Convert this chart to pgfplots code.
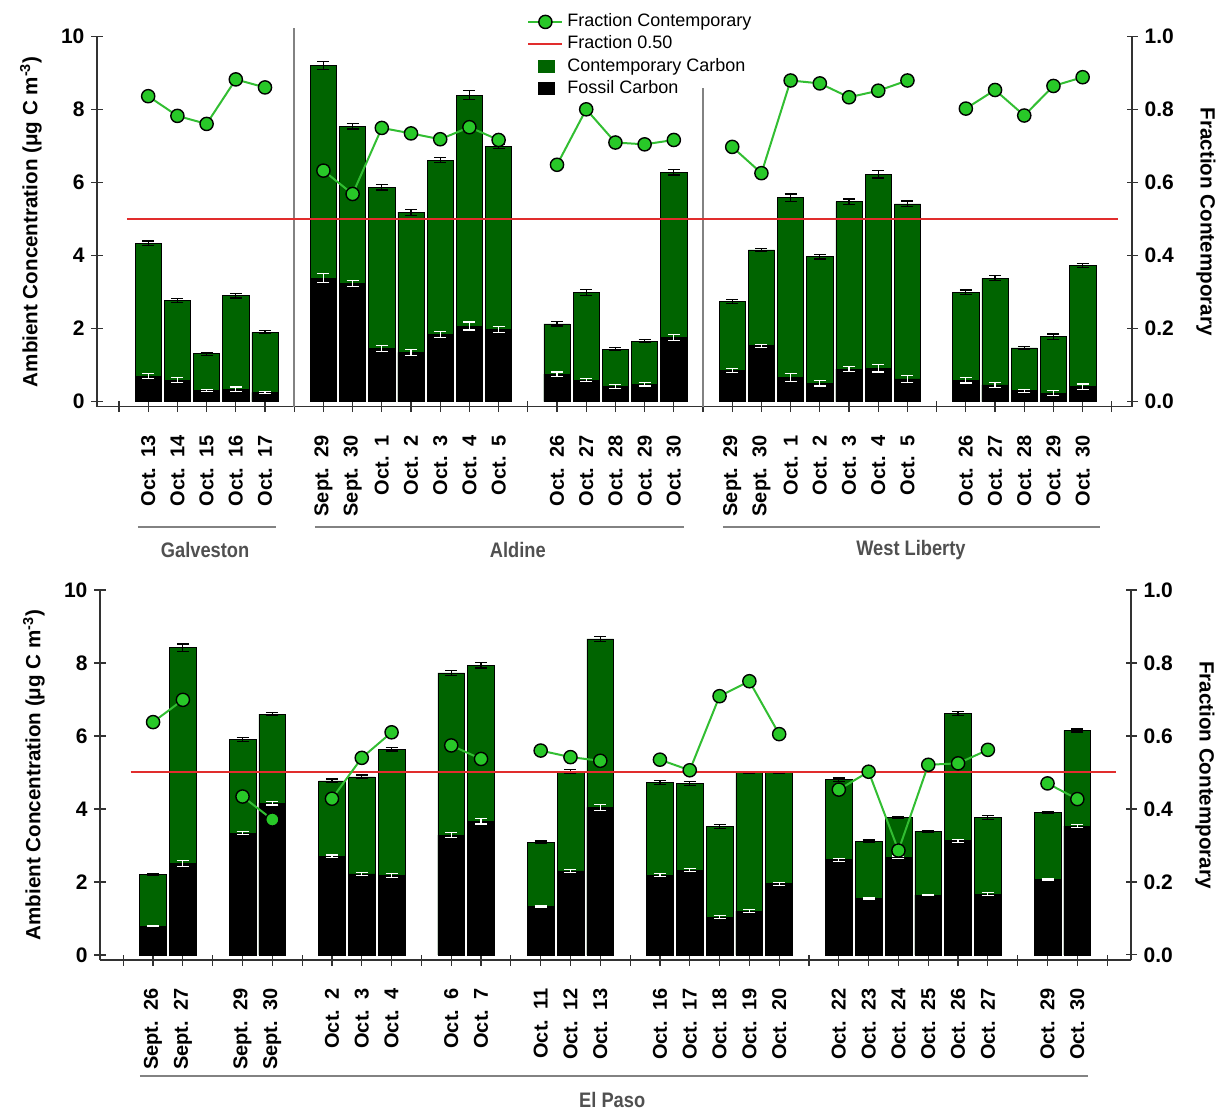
\documentclass[border=0pt]{standalone}
\usepackage{fontspec}
\setmainfont{Liberation Sans}
\usepackage{pgfplots}
\usepackage{pgfplotstable}
\pgfplotsset{compat=1.18}
\definecolor{cgreen}{RGB}{0,100,0}
\definecolor{fgreen}{RGB}{40,200,40}
\definecolor{lgreen}{RGB}{50,190,50}
\definecolor{rline}{RGB}{225,45,45}
\definecolor{axgray}{RGB}{50,50,50}
\definecolor{sepgray}{RGB}{130,130,130}
\definecolor{namegray}{RGB}{80,80,80}
\newcommand{\lab}[2]{#1\hspace{0.5em}#2}

\pgfplotstableread{
x t te f fe frac
1 4.34 0.06 0.70 0.06 0.837
2 2.77 0.06 0.59 0.06 0.783
3 1.31 0.04 0.30 0.03 0.761
4 2.90 0.06 0.34 0.06 0.883
5 1.90 0.04 0.25 0.03 0.861
6 nan nan nan nan nan
7 9.22 0.11 3.38 0.12 0.633
8 7.55 0.08 3.24 0.08 0.569
9 5.88 0.08 1.46 0.08 0.750
10 5.19 0.08 1.35 0.08 0.735
11 6.62 0.07 1.84 0.08 0.719
12 8.40 0.12 2.07 0.11 0.752
13 7.00 0.06 1.98 0.08 0.717
14 nan nan nan nan nan
15 2.13 0.06 0.75 0.06 0.649
16 2.99 0.08 0.59 0.05 0.801
17 1.44 0.05 0.41 0.05 0.710
18 1.66 0.05 0.48 0.05 0.705
19 6.28 0.07 1.76 0.08 0.717
20 nan nan nan nan nan
21 2.74 0.05 0.85 0.05 0.698
22 4.16 0.04 1.53 0.04 0.626
23 5.59 0.10 0.66 0.10 0.880
24 3.97 0.06 0.50 0.07 0.872
25 5.48 0.07 0.89 0.07 0.834
26 6.23 0.10 0.91 0.10 0.852
27 5.42 0.08 0.62 0.10 0.880
28 nan nan nan nan nan
29 3.00 0.06 0.58 0.07 0.803
30 3.38 0.07 0.46 0.07 0.854
31 1.47 0.04 0.30 0.04 0.784
32 1.78 0.07 0.23 0.07 0.865
33 3.73 0.06 0.41 0.07 0.889
}\toptab

\pgfplotstableread{
x t te f fe frac
1 2.20 0.03 0.79 0.02 0.638
2 8.42 0.10 2.50 0.08 0.699
3 nan nan nan nan nan
4 5.90 0.05 3.34 0.04 0.434
5 6.60 0.05 4.16 0.05 0.371
6 nan nan nan nan nan
7 4.77 0.05 2.70 0.04 0.428
8 4.88 0.05 2.22 0.04 0.540
9 5.64 0.05 2.17 0.05 0.610
10 nan nan nan nan nan
11 7.73 0.07 3.28 0.07 0.574
12 7.94 0.08 3.66 0.07 0.537
13 nan nan nan nan nan
14 3.09 0.03 1.33 0.02 0.560
15 5.03 0.06 2.30 0.04 0.542
16 8.66 0.07 4.04 0.08 0.532
17 nan nan nan nan nan
18 4.73 0.05 2.18 0.04 0.535
19 4.70 0.05 2.32 0.04 0.506
20 3.52 0.05 1.03 0.04 0.709
21 5.00 0.03 1.20 0.04 0.750
22 5.00 0.03 1.95 0.04 0.605
23 nan nan nan nan nan
24 4.80 0.05 2.61 0.04 0.453
25 3.12 0.03 1.55 0.02 0.502
26 3.77 0.03 2.68 0.03 0.286
27 3.39 0.03 1.64 0.02 0.521
28 6.62 0.05 3.13 0.04 0.525
29 3.77 0.05 1.66 0.04 0.562
30 nan nan nan nan nan
31 3.91 0.03 2.07 0.02 0.470
32 6.15 0.04 3.53 0.04 0.427
}\bottab

\pgfplotsset{
  base/.style={
    scale only axis, height=185pt, ymin=-0.14, ymax=10,
    anchor=south west, clip=false,
    /pgf/number format/assume math mode=true,
    tick align=outside, major tick length=5.5pt,
    tick style={axgray, line width=0.6pt},
  },
  nolinearrows/.style={
    axis line style={-, axgray, line width=0.7pt},
    every outer x axis line/.append style={-},
    every outer y axis line/.append style={-},
    every inner x axis line/.append style={-},
    every inner y axis line/.append style={-},
  },
  mainax/.style={
    base,
    axis x line=bottom, axis y line=left, nolinearrows,
    ytick={0,2,4,6,8,10},
    yticklabel style={font=\bfseries\fontsize{10.5}{12}\selectfont},
    xticklabel shift=8pt,
    xticklabel style={rotate=90, anchor=east, font=\bfseries\fontsize{10}{12}\selectfont},
    ylabel={Ambient Concentration (μg C m\textsuperscript{-3})},
    ylabel style={at={(axis description cs:0,0.5)}, anchor=center, yshift=33pt, xshift=0pt, font=\bfseries\fontsize{10.3}{12}\selectfont},
  },
  fracax/.style={
    base, ymin=-0.014, ymax=1.0,
    axis x line=none, axis y line=right, nolinearrows,
    ytick={0,0.2,0.4,0.6,0.8,1.0},
    yticklabel style={/pgf/number format/.cd, fixed, fixed zerofill, precision=1, /tikz/.cd, font=\bfseries\fontsize{10.5}{12}\selectfont},
    ylabel={Fraction Contemporary},
    ylabel style={at={(axis description cs:1,0.5)}, anchor=center, rotate=180, yshift=37pt, font=\bfseries\fontsize{10.3}{12}\selectfont},
    unbounded coords=jump,
  },
  greenbar/.style={ybar, bar width=0.9, bar shift=0pt, fill=cgreen, draw=black, line width=0.3pt,
    error bars/.cd, y dir=both, y explicit,
    error bar style={black, line width=0.6pt},
    error mark options={black, rotate=90, mark size=3pt, line width=0.6pt}},
  blackbar/.style={ybar, bar width=0.9, bar shift=0pt, fill=black, draw=black, line width=0.3pt,
    error bars/.cd, y dir=both, y explicit,
    error bar style={white, line width=0.6pt},
    error mark options={white, rotate=90, mark size=3pt, line width=0.6pt}},
  fracline/.style={lgreen, line width=1pt, mark=*, mark size=3.3pt,
    mark options={fill=fgreen, draw=black, line width=0.7pt}},
}

\begin{document}
\begin{tikzpicture}
\path[use as bounding box] (-48.5pt,-351.65pt) rectangle (560pt,203.35pt);

% ---------- top panel ----------
\begin{axis}[mainax, at={(0pt,0pt)}, width=517.5pt, xmin=-0.753, xmax=34.69,
  xtick={0,...,34},
  xticklabels={{},\lab{Oct.}{13},\lab{Oct.}{14},\lab{Oct.}{15},\lab{Oct.}{16},\lab{Oct.}{17},{},
    \lab{Sept.}{29},\lab{Sept.}{30},\lab{Oct.}{1},\lab{Oct.}{2},\lab{Oct.}{3},\lab{Oct.}{4},\lab{Oct.}{5},{},
    \lab{Oct.}{26},\lab{Oct.}{27},\lab{Oct.}{28},\lab{Oct.}{29},\lab{Oct.}{30},{},
    \lab{Sept.}{29},\lab{Sept.}{30},\lab{Oct.}{1},\lab{Oct.}{2},\lab{Oct.}{3},\lab{Oct.}{4},\lab{Oct.}{5},{},
    \lab{Oct.}{26},\lab{Oct.}{27},\lab{Oct.}{28},\lab{Oct.}{29},\lab{Oct.}{30},{}},
]
\addplot[greenbar] table[x=x, y=t, y error=te]{\toptab};
\addplot[blackbar] table[x=x, y=f, y error=fe]{\toptab};
\draw[sepgray, line width=1pt] (axis cs:6,-0.14) -- (axis cs:6,10.25);
\draw[sepgray, line width=1pt] (axis cs:20,-0.14) -- (axis cs:20,8.6);
\draw[sepgray, line width=1.1pt] (axis cs:0.65,-3.44) -- (axis cs:5.38,-3.44);
\draw[sepgray, line width=1.1pt] (axis cs:6.71,-3.44) -- (axis cs:19.35,-3.44);
\draw[sepgray, line width=1.1pt] (axis cs:20.68,-3.44) -- (axis cs:33.6,-3.44);
\node[text=namegray, font=\bfseries\fontsize{10.5}{12}\selectfont] at (axis cs:2.95,-4.07) {\scalebox{0.87}[1]{Galveston}};
\node[text=namegray, font=\bfseries\fontsize{10.5}{12}\selectfont] at (axis cs:13.66,-4.07) {\scalebox{0.87}[1]{Aldine}};
\node[text=namegray, font=\bfseries\fontsize{10.5}{12}\selectfont] at (axis cs:27.12,-4.07) {\scalebox{0.87}[1]{West Liberty}};
\end{axis}

% legend (drawn before the fraction series so points stay visible)
\begin{axis}[base, at={(0pt,0pt)}, width=517.5pt, xmin=-0.753, xmax=34.69, ymin=-0.014, ymax=1.0,
  hide axis,
  legend style={at={(axis cs:13.9,1.08)}, anchor=north west, draw=none, fill=none,
    font=\fontsize{9}{11}\selectfont, row sep=-1pt, inner sep=1pt},
  legend cell align=left,
]
\addlegendimage{fracline}
\addlegendentry{Fraction Contemporary}
\addlegendimage{rline, line width=1pt}
\addlegendentry{Fraction 0.50}
\addlegendimage{legend image code/.code={\fill[cgreen] (5pt,-3pt) rectangle (13pt,3pt);}}
\addlegendentry{Contemporary Carbon}
\addlegendimage{legend image code/.code={\fill[black] (5pt,-3pt) rectangle (13pt,3pt);}}
\addlegendentry{Fossil Carbon}
\end{axis}

\begin{axis}[fracax, at={(0pt,0pt)}, width=517.5pt, xmin=-0.753, xmax=34.69]
\addplot[rline, line width=1pt] coordinates {(0.27,0.5) (34.2,0.5)};
\addplot[fracline] table[x=x, y=frac]{\toptab};
\end{axis}

% ---------- bottom panel ----------
\begin{axis}[mainax, at={(1.5pt,-276.65pt)}, width=515.5pt, xmin=-0.78, xmax=33.8,
  xtick={0,...,33},
  xticklabels={{},\lab{Sept.}{26},\lab{Sept.}{27},{},\lab{Sept.}{29},\lab{Sept.}{30},{},
    \lab{Oct.}{2},\lab{Oct.}{3},\lab{Oct.}{4},{},\lab{Oct.}{6},\lab{Oct.}{7},{},
    \lab{Oct.}{11},\lab{Oct.}{12},\lab{Oct.}{13},{},
    \lab{Oct.}{16},\lab{Oct.}{17},\lab{Oct.}{18},\lab{Oct.}{19},\lab{Oct.}{20},{},
    \lab{Oct.}{22},\lab{Oct.}{23},\lab{Oct.}{24},\lab{Oct.}{25},\lab{Oct.}{26},\lab{Oct.}{27},{},
    \lab{Oct.}{29},\lab{Oct.}{30},{}},
]
\addplot[greenbar] table[x=x, y=t, y error=te]{\bottab};
\addplot[blackbar] table[x=x, y=f, y error=fe]{\bottab};
\draw[sepgray, line width=1.1pt] (axis cs:0.56,-3.32) -- (axis cs:32.37,-3.32);
\node[text=namegray, font=\bfseries\fontsize{10.5}{12}\selectfont] at (axis cs:16.4,-3.97) {\scalebox{0.87}[1]{El Paso}};
\end{axis}

\begin{axis}[fracax, at={(1.5pt,-276.65pt)}, width=515.5pt, xmin=-0.78, xmax=33.8]
\addplot[rline, line width=1pt] coordinates {(0.25,0.5) (33.3,0.5)};
\addplot[fracline] table[x=x, y=frac]{\bottab};
\end{axis}
\end{tikzpicture}
\end{document}
